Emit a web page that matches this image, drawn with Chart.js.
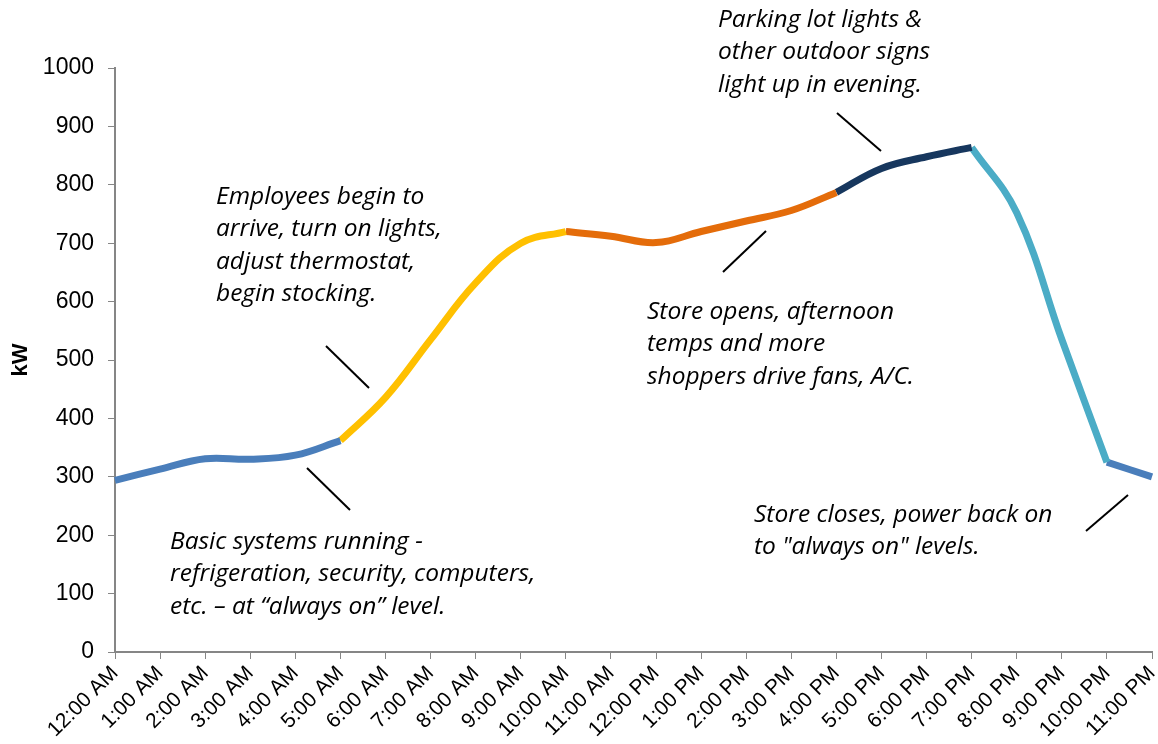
<!DOCTYPE html>
<html lang="en">
<head>
    <meta charset="UTF-8">
    <title>Store Load Profile</title>
    <script src="https://cdn.jsdelivr.net/npm/chart.js"></script>
    <style>
        html, body {
            margin: 0;
            padding: 0;
            background: #fff;
        }
        .chart-box {
            width: 1158px;
            height: 744px;
            position: relative;
        }
    </style>
</head>
<body>
    <div class="chart-box">
        <canvas id="loadChart"></canvas>
    </div>

    <script>
        // hourly labels and demand (kW)
        const hours = [
            '12:00 AM', '1:00 AM', '2:00 AM', '3:00 AM', '4:00 AM', '5:00 AM',
            '6:00 AM', '7:00 AM', '8:00 AM', '9:00 AM', '10:00 AM', '11:00 AM',
            '12:00 PM', '1:00 PM', '2:00 PM', '3:00 PM', '4:00 PM', '5:00 PM',
            '6:00 PM', '7:00 PM', '8:00 PM', '9:00 PM', '10:00 PM', '11:00 PM'
        ];
        const kW = [
            294, 313, 331, 330, 337, 362,
            436, 535, 632, 700, 720, 712,
            701, 720, 738, 756, 787, 828,
            848, 864, 752, 535, 325, 300
        ];
        // each phase runs from its start hour to the next phase's start hour
        const phaseStarts = [0, 5, 10, 16, 19, 22];
        const phaseEnds = [5, 10, 16, 19, 22, 23];
        const phaseColors = ['#4a7ebb', '#ffc000', '#e46c0a', '#17375e', '#4bacc6', '#4a7ebb'];

        const notes = [
            { x: 216, y: 197, lines: ['Employees begin to', 'arrive, turn on lights,', 'adjust thermostat,', 'begin stocking.'] },
            { x: 170, y: 542, lines: ['Basic systems running -', 'refrigeration, security, computers,', 'etc. \u2013 at \u201calways on\u201d level.'] },
            { x: 718, y: 20, lines: ['Parking lot lights &', 'other outdoor signs', 'light up in evening.'] },
            { x: 647, y: 312, lines: ['Store opens, afternoon', 'temps and more', 'shoppers drive fans, A/C.'] },
            { x: 754, y: 515, lines: ['Store closes, power back on', 'to "always on" levels.'] }
        ];
        const pointers = [
            [326, 346, 369, 388],
            [307, 468, 350, 510],
            [837, 113, 881, 151],
            [723, 272, 766, 231],
            [1086, 531, 1128, 495]
        ];

        // one dataset per phase so every piece is smoothed on its own
        const phaseSets = phaseStarts.map((s, k) => ({
            data: kW.map((v, i) => (i >= s && i <= phaseEnds[k]) ? v : null),
            borderColor: phaseColors[k],
            borderWidth: 7,
            pointRadius: 0,
            tension: 0.4,
            spanGaps: false
        }));

        const notesPlugin = {
            id: 'notes',
            afterDraw(chart) {
                const ctx = chart.ctx;
                ctx.save();
                ctx.fillStyle = '#000';
                ctx.font = 'italic 24.5px "Open Sans", sans-serif';
                ctx.textAlign = 'left';
                ctx.textBaseline = 'middle';
                notes.forEach(n => {
                    n.lines.forEach((t, i) => ctx.fillText(t, n.x, n.y + i * 32.5));
                });
                ctx.strokeStyle = '#000';
                ctx.lineWidth = 2;
                pointers.forEach(p => {
                    ctx.beginPath();
                    ctx.moveTo(p[0], p[1]);
                    ctx.lineTo(p[2], p[3]);
                    ctx.stroke();
                });
                ctx.restore();
            }
        };

        Chart.defaults.font.family = '"Liberation Sans", Arial, sans-serif';
        Chart.defaults.color = '#000';

        new Chart(document.getElementById('loadChart'), {
            type: 'line',
            data: {
                labels: hours,
                datasets: phaseSets
            },
            options: {
                responsive: true,
                maintainAspectRatio: false,
                animation: false,
                layout: { padding: { top: 68, right: 6, left: 8, bottom: 0 } },
                plugins: {
                    legend: { display: false },
                    tooltip: { enabled: false }
                },
                scales: {
                    x: {
                        offset: false,
                        grid: { drawOnChartArea: false, drawTicks: true, tickLength: 7, color: '#868686' },
                        border: { color: '#868686', width: 2 },
                        ticks: {
                            autoSkip: false,
                            maxRotation: 45,
                            minRotation: 45,
                            padding: 2,
                            font: { size: 21 }
                        },
                        afterFit(scale) {
                            scale.height = 92;
                            scale.paddingRight = 0;
                            scale.paddingLeft = 0;
                        }
                    },
                    y: {
                        min: 0,
                        max: 1000,
                        title: {
                            display: true,
                            text: 'kW',
                            font: { size: 22, weight: 'bold' },
                            padding: 0
                        },
                        grid: { drawOnChartArea: false, drawTicks: true, tickLength: 7, color: '#868686' },
                        border: { color: '#868686', width: 2 },
                        ticks: {
                            stepSize: 100,
                            padding: 14,
                            font: { size: 23 },
                            callback: v => String(v)
                        },
                        afterFit(scale) { scale.width = 107; }
                    }
                }
            },
            plugins: [notesPlugin]
        });
    </script>
</body>
</html>
